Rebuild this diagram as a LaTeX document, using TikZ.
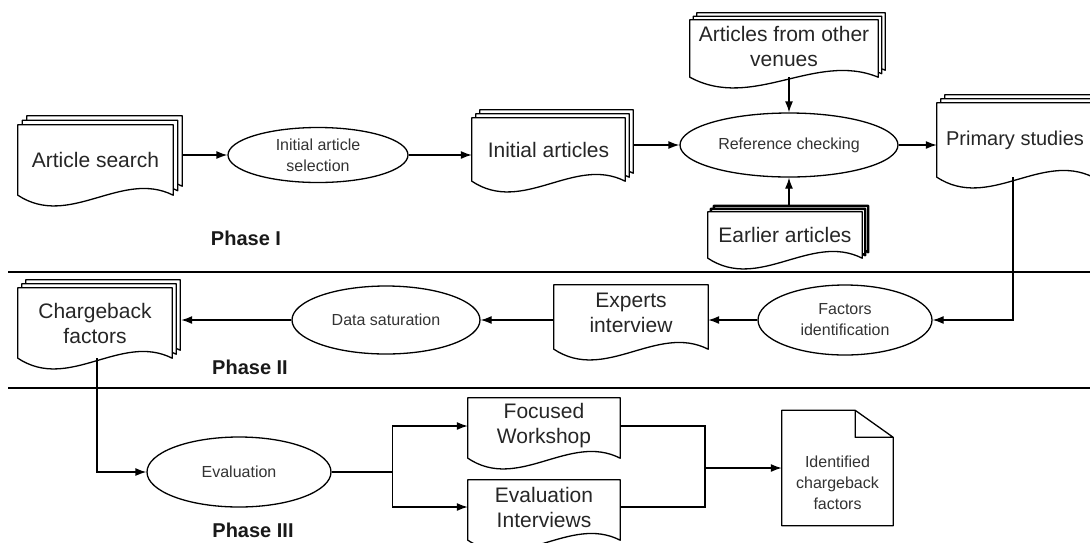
\documentclass[tikz,border=0pt]{standalone}
\usepackage{fontspec}
\setmainfont{Liberation Sans}
\usetikzlibrary{arrows.meta,calc,shapes.geometric}
\pgfdeclarelayer{background}
\pgfsetlayers{background,main}
\newcommand\doctext{\fontsize{21pt}{25pt}\selectfont}
\newcommand\elltext{\fontsize{16pt}{21pt}\selectfont}
\newcommand\phasetext{\fontsize{20pt}{24pt}\selectfont\bfseries}
% document outline: [options]{node name}{offset}{bottom extension}
\newcommand\docout[4][]{%
  \draw[docline,#1] let \p1=(#2.north west), \p2=(#2.south east) in
   ({\x1+#3pt},{\y1+#3pt}) -- ({\x2+#3pt},{\y1+#3pt}) -- ({\x2+#3pt},{\y2-#4pt+#3pt})
   .. controls ({\x2-(\x2-\x1)/3+#3pt},{\y2-#4pt+26pt+#3pt}) and ({\x1+(\x2-\x1)/3+#3pt},{\y2-#4pt-34pt+#3pt}) .. ({\x1+#3pt},{\y2-#4pt+#3pt}) -- cycle;}
\newcommand\multidoc[5][]{\docout[#1]{#2}{#4}{#5}\docout[#1]{#2}{#3}{#5}\docout{#2}{0}{#5}}
\begin{document}
\begin{tikzpicture}[x=1pt,y=-1pt,
  docline/.style={line width=1.3pt, fill=white, line join=round},
  docnode/.style={rectangle, inner sep=0pt, align=center, font=\doctext, text=black!85},
  procnode/.style={ellipse, draw, line width=1.3pt, inner sep=0pt, align=center, font=\elltext, text=black!80},
  notetext/.style={inner sep=0pt, align=center, font=\elltext, text=black!80},
  phase/.style={font=\phasetext, text=black!90},
  arr/.style={line width=1.3pt, -{Latex[length=11pt,width=8pt]}},
  conn/.style={line width=1.3pt},
  divider/.style={line width=1.8pt}]
\useasboundingbox (0,0) rectangle (1090,542);
% ---------- Phase I ----------
\node[docnode, minimum width=155pt, minimum height=70pt] (as) at (95.5,160) {Article search};
\node[procnode, minimum width=180pt, minimum height=55pt] (e1) at (318,155) {Initial article\\selection};
\node[docnode, minimum width=153pt, minimum height=63pt] (ia) at (548.5,149.5) {Initial articles};
\node[procnode, minimum width=218pt, minimum height=64pt] (rc) at (789,145) {Reference checking};
\node[docnode, minimum width=188pt, minimum height=52pt] (of) at (784,46) {Articles from other\\venues};
\node[docnode, minimum width=154pt, minimum height=46pt] (ea) at (785,235) {Earlier articles};
\node[docnode, minimum width=156pt, minimum height=74pt, font=\fontsize{20pt}{24pt}\selectfont] (ps) at (1015,140) {Primary studies};
\node[phase] (p1) at (246,238) {Phase I};
% ---------- Phase II ----------
\node[docnode, minimum width=154pt, minimum height=70pt] (cf) at (95,323) {Chargeback\\factors};
\node[procnode, minimum width=188pt, minimum height=68pt] (ds) at (386,320) {Data saturation};
\node[docnode, minimum width=154pt, minimum height=56pt] (ei) at (631,313) {Experts\\interview};
\node[procnode, minimum width=174pt, minimum height=70pt] (fi) at (845,320) {Factors\\identification};
\node[phase] (p2) at (250,367) {Phase II};
% ---------- Phase III ----------
\node[procnode, minimum width=184pt, minimum height=70pt] (ev) at (239,472) {Evaluation};
\node[docnode, minimum width=152pt, minimum height=56pt] (fw) at (544,426) {Focused\\Workshop};
\node[docnode, minimum width=152pt, minimum height=54pt] (evi) at (544,507) {Evaluation\\Interviews};
\node[rectangle, inner sep=0pt, minimum width=111pt, minimum height=115pt] (icf) at (837.5,468) {};
\node[notetext] (icft) at (837.5,483) {Identified\\chargeback\\factors};
\node[phase] (p3) at (253,530) {Phase III};
% ---------- dividers ----------
\coordinate (d1a) at (8,272); \coordinate (d1b) at (1090,272);
\coordinate (d2a) at (8,388); \coordinate (d2b) at (1090,388);
\draw[divider] (d1a) -- (d1b);
\draw[divider] (d2a) -- (d2b);
% ---------- connectors ----------
\coordinate (asb) at ([xshift=9pt]as.east);
\coordinate (iab) at ([xshift=8pt]ia.east);
\coordinate (eatop) at ([yshift=6pt]ea.north);
\coordinate (ofbot) at ([yshift=-5pt]of.south);
\coordinate (cfb) at ([xshift=9pt]cf.east);
\draw[arr] (asb |- e1.west) -- (e1.west);
\draw[arr] (e1.east) -- (e1.east -| ia.west);
\draw[arr] (iab |- rc.west) -- (rc.west);
\draw[arr] (rc.east) -- (rc.east -| ps.west);
\draw[arr] (rc.north |- ofbot) -- (rc.north);
\draw[arr] (eatop -| rc.south) -- (rc.south);
\draw[arr] ([xshift=-2pt]ps.south) |- (fi.east);
\draw[arr] (fi.west) -- (fi.west -| ei.east);
\draw[arr] (ei.west |- ds.east) -- (ds.east);
\draw[arr] (ds.west) -- (ds.west -| cfb);
\draw[arr] ([xshift=2pt]cf.south) |- (ev.west);
\path (ev.east) -- ++(61,0) coordinate (br);
\draw[conn] (ev.east) -- (br);
\draw[arr] (br) |- (fw.west);
\draw[arr] (br) |- (evi.west);
\coordinate (jn) at (705,468);
\draw[conn] (fw.east) -| (jn);
\draw[conn] (evi.east) -| (jn);
\draw[arr] (jn) -- (jn -| icf.west);
% ---------- shapes on background ----------
\begin{pgfonlayer}{background}
\fill[white] (0,0) rectangle (1090,542);
\multidoc{as}{4.5}{9}{0}
\multidoc{ia}{4}{8}{0}
\multidoc{of}{3.5}{7}{5}
\multidoc[line width=2.4pt]{ea}{3}{6}{0}
\multidoc{ps}{4}{8}{0}
\multidoc{cf}{4}{8}{0}
\docout{ei}{0}{8}
\docout{fw}{0}{4}
\docout{evi}{0}{6}
\draw[docline] let \p1=(icf.north west), \p2=(icf.south east) in
  (\x1,\y1) -- ({\x2-38pt},\y1) -- (\x2,{\y1-27pt}) -- (\x2,\y2) -- (\x1,\y2) -- cycle
  ({\x2-38pt},\y1) -- ({\x2-38pt},{\y1-27pt}) -- (\x2,{\y1-27pt});
\end{pgfonlayer}
\end{tikzpicture}
\end{document}
